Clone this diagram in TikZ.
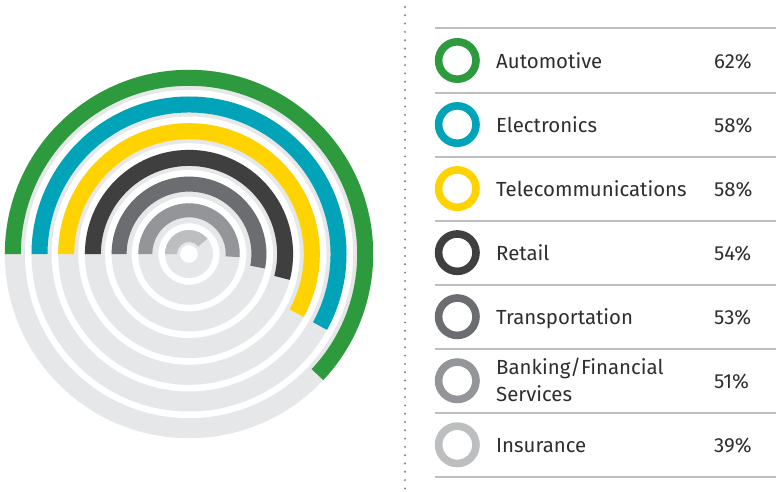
\documentclass[tikz,border=0pt]{standalone}
\usepackage{fontspec}
\setmainfont{Fira Sans}
\definecolor{autoC}{HTML}{2D9A3E}
\definecolor{elecC}{HTML}{00A3B7}
\definecolor{teleC}{HTML}{FFD300}
\definecolor{retC}{HTML}{3F3F40}
\definecolor{tranC}{HTML}{6C6D70}
\definecolor{bankC}{HTML}{939598}
\definecolor{insC}{HTML}{BCBEC0}
\definecolor{bgC}{HTML}{E6E7E8}
\definecolor{ruleC}{HTML}{BDBEC0}
\definecolor{dotC}{HTML}{808184}
\definecolor{txtC}{HTML}{2E2E2E}
\tikzset{
  legring/.style={circle, minimum size=37.4pt, inner sep=0pt, line width=7.6pt},
  lab/.style={text=txtC, font=\fontsize{20.4}{24}\selectfont, inner sep=0pt},
  rulestyle/.style={ruleC, line width=2pt},
  sepline/.style={dotC, line width=2.2pt, line cap=round, dash pattern=on 0pt off 8.3pt}
}
\begin{document}
\begin{tikzpicture}[x=1pt,y=1pt]
\useasboundingbox (0,0) rectangle (776,491);
\fill[white] (0,0) rectangle (776,491);
% radial chart
\begin{scope}[shift={(189,237)}]
\foreach \ro/\w/\col/\p in {184.2/16/autoC/62, 157.5/16/elecC/58, 130.8/16/teleC/58, 104.1/16/retC/54, 77.4/15/tranC/53, 50.7/14/bankC/51, 24/12/insC/39} {
  \pgfmathsetmacro\ri{max(\ro-20,9)}
  \fill[bgC, even odd rule] (0,0) circle[radius=\ro] (0,0) circle[radius=\ri];
  \pgfmathsetmacro\ci{\ro-\w}
  \pgfmathsetmacro\ea{180-3.6*\p}
  \fill[\col] (180:\ro) arc[start angle=180, end angle=\ea, radius=\ro] -- (\ea:\ci) arc[start angle=\ea, end angle=180, radius=\ci] -- cycle;
}
\end{scope}
% dotted separator
\coordinate (dtop) at (405,484);
\coordinate (dbot) at (405,2);
\draw[sepline] (dtop) -- (dbot);
% rules
\foreach \k in {0,...,7} {
  \pgfmathsetmacro\yy{491-28.5-64.05*\k}
  \coordinate (rl\k) at (435,\yy);
  \coordinate (rr\k) at (776,\yy);
  \draw[rulestyle] (rl\k) -- (rr\k);
}
% legend rows
\foreach \k/\col/\lab/\p in {0/autoC/Automotive/62, 1/elecC/Electronics/58, 2/teleC/Telecommunications/58, 3/retC/Retail/54, 4/tranC/Transportation/53, 6/insC/Insurance/39} {
  \pgfmathsetmacro\cy{491-60.5-64.05*\k}
  \node[legring, draw=\col] (ring\k) at (457.3,\cy) {};
  \node[lab, anchor=base west] (lab\k) at (496,\cy-7.8) {\lab};
  \node[lab, anchor=base west] (pct\k) at (714,\cy-7.8) {\p\%};
}
\pgfmathsetmacro\cyb{491-60.5-64.05*5}
\node[legring, draw=bankC] (ring5) at (457.3,\cyb) {};
\node[lab, anchor=base west] (lab5a) at (496,\cyb+6.3) {Banking/Financial};
\node[lab, anchor=base west] (lab5b) at (496,\cyb-20.4) {Services};
\node[lab, anchor=base west] (pct5) at (714,\cyb-7.8) {51\%};
\end{tikzpicture}
\end{document}
